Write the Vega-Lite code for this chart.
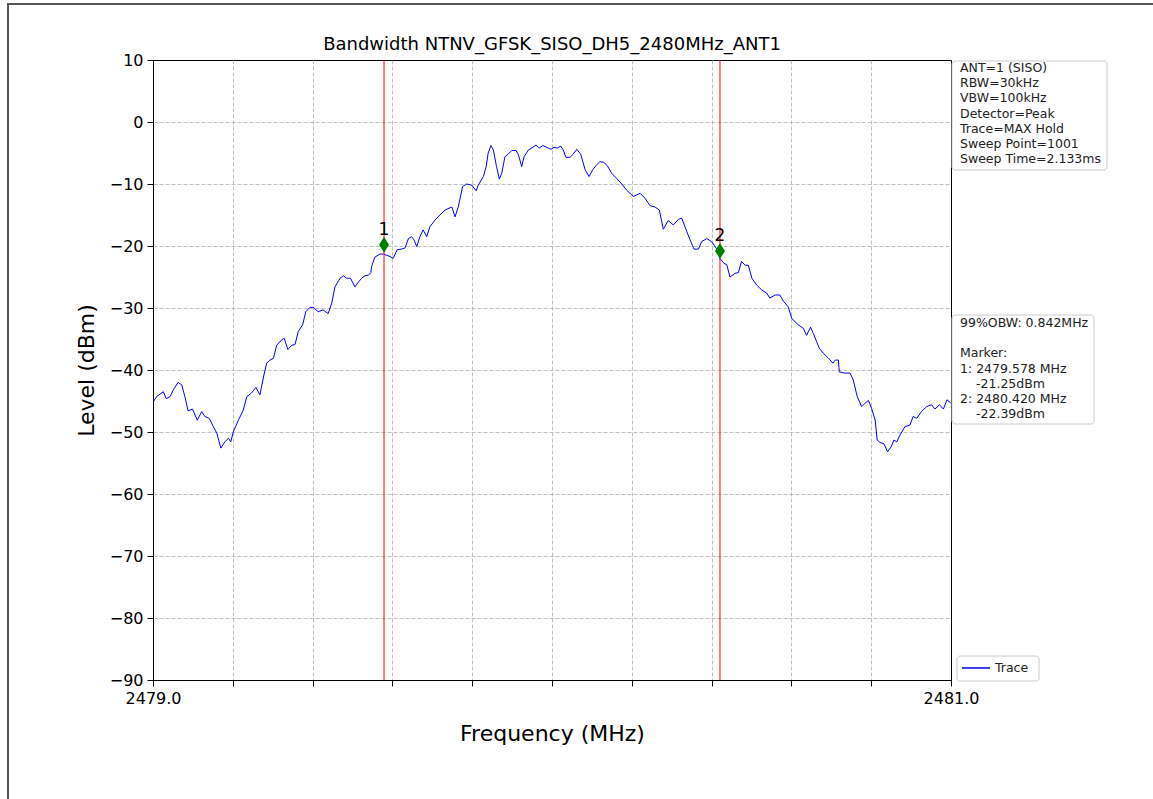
{
  "$schema": "https://vega.github.io/schema/vega-lite/v6.json",
  "width": 798,
  "height": 620,
  "autosize": {"type": "none"},
  "padding": {"left": 153, "top": 60, "right": 202, "bottom": 119},
  "background": "white",
  "config": {
    "view": {"stroke": "black", "strokeWidth": 1}
  },
  "datasets": {
    "trace": [
      {"f":2479.001,"db":-45.1},{"f":2479.009,"db":-44.3},{"f":2479.026,"db":-43.5},{"f":2479.033,"db":-44.6},{"f":2479.043,"db":-44.3},{"f":2479.051,"db":-43.2},{"f":2479.063,"db":-42.0},{"f":2479.072,"db":-42.4},{"f":2479.080,"db":-44.3},{"f":2479.088,"db":-46.6},{"f":2479.099,"db":-46.3},{"f":2479.111,"db":-48.1},{"f":2479.122,"db":-46.7},{"f":2479.130,"db":-47.5},{"f":2479.141,"db":-47.8},{"f":2479.151,"db":-49.1},{"f":2479.160,"db":-50.2},{"f":2479.170,"db":-52.6},{"f":2479.180,"db":-51.6},{"f":2479.189,"db":-51.0},{"f":2479.195,"db":-51.6},{"f":2479.201,"db":-50.0},{"f":2479.214,"db":-48.1},{"f":2479.226,"db":-46.5},{"f":2479.235,"db":-44.3},{"f":2479.247,"db":-43.7},{"f":2479.258,"db":-42.8},{"f":2479.268,"db":-44.0},{"f":2479.278,"db":-40.8},{"f":2479.285,"db":-38.9},{"f":2479.293,"db":-38.4},{"f":2479.302,"db":-38.1},{"f":2479.310,"db":-36.0},{"f":2479.323,"db":-35.1},{"f":2479.329,"db":-34.9},{"f":2479.338,"db":-36.7},{"f":2479.348,"db":-36.0},{"f":2479.356,"db":-35.9},{"f":2479.364,"db":-33.8},{"f":2479.375,"db":-32.7},{"f":2479.383,"db":-30.6},{"f":2479.393,"db":-29.9},{"f":2479.402,"db":-29.9},{"f":2479.414,"db":-30.6},{"f":2479.426,"db":-30.3},{"f":2479.439,"db":-30.9},{"f":2479.448,"db":-29.2},{"f":2479.456,"db":-26.6},{"f":2479.469,"db":-25.2},{"f":2479.477,"db":-24.8},{"f":2479.485,"db":-25.2},{"f":2479.495,"db":-25.2},{"f":2479.506,"db":-26.6},{"f":2479.515,"db":-25.8},{"f":2479.523,"db":-25.2},{"f":2479.531,"db":-24.8},{"f":2479.540,"db":-24.7},{"f":2479.546,"db":-24.3},{"f":2479.548,"db":-23.3},{"f":2479.556,"db":-21.8},{"f":2479.569,"db":-21.3},{"f":2479.577,"db":-21.3},{"f":2479.586,"db":-21.5},{"f":2479.594,"db":-21.7},{"f":2479.602,"db":-22.0},{"f":2479.612,"db":-20.6},{"f":2479.623,"db":-20.5},{"f":2479.632,"db":-20.3},{"f":2479.640,"db":-18.8},{"f":2479.648,"db":-18.5},{"f":2479.654,"db":-19.0},{"f":2479.661,"db":-20.1},{"f":2479.669,"db":-18.5},{"f":2479.677,"db":-17.4},{"f":2479.686,"db":-18.5},{"f":2479.694,"db":-16.9},{"f":2479.707,"db":-15.8},{"f":2479.719,"db":-15.0},{"f":2479.732,"db":-14.2},{"f":2479.749,"db":-13.7},{"f":2479.757,"db":-15.3},{"f":2479.765,"db":-13.7},{"f":2479.776,"db":-10.4},{"f":2479.786,"db":-10.0},{"f":2479.799,"db":-10.2},{"f":2479.810,"db":-11.1},{"f":2479.815,"db":-10.2},{"f":2479.828,"db":-8.8},{"f":2479.835,"db":-7.2},{"f":2479.840,"db":-5.0},{"f":2479.847,"db":-3.8},{"f":2479.853,"db":-4.5},{"f":2479.861,"db":-7.2},{"f":2479.868,"db":-9.2},{"f":2479.874,"db":-8.3},{"f":2479.882,"db":-5.6},{"f":2479.890,"db":-5.2},{"f":2479.899,"db":-4.6},{"f":2479.910,"db":-4.6},{"f":2479.916,"db":-5.3},{"f":2479.924,"db":-7.2},{"f":2479.930,"db":-5.6},{"f":2479.941,"db":-4.5},{"f":2479.952,"db":-4.1},{"f":2479.960,"db":-3.7},{"f":2479.968,"db":-4.2},{"f":2479.977,"db":-3.8},{"f":2479.987,"db":-4.1},{"f":2479.997,"db":-4.4},{"f":2480.005,"db":-4.1},{"f":2480.013,"db":-4.2},{"f":2480.022,"db":-3.9},{"f":2480.028,"db":-4.5},{"f":2480.035,"db":-5.7},{"f":2480.045,"db":-5.7},{"f":2480.053,"db":-5.2},{"f":2480.062,"db":-4.4},{"f":2480.072,"db":-5.2},{"f":2480.083,"db":-7.7},{"f":2480.093,"db":-8.8},{"f":2480.102,"db":-7.7},{"f":2480.112,"db":-6.9},{"f":2480.120,"db":-6.4},{"f":2480.130,"db":-6.5},{"f":2480.139,"db":-7.1},{"f":2480.150,"db":-8.3},{"f":2480.162,"db":-9.1},{"f":2480.175,"db":-10.0},{"f":2480.187,"db":-11.0},{"f":2480.204,"db":-12.0},{"f":2480.221,"db":-11.5},{"f":2480.233,"db":-12.3},{"f":2480.246,"db":-13.5},{"f":2480.258,"db":-13.7},{"f":2480.269,"db":-14.2},{"f":2480.279,"db":-17.3},{"f":2480.291,"db":-15.9},{"f":2480.304,"db":-16.6},{"f":2480.317,"db":-15.7},{"f":2480.325,"db":-15.5},{"f":2480.338,"db":-17.7},{"f":2480.346,"db":-19.0},{"f":2480.356,"db":-20.5},{"f":2480.367,"db":-20.5},{"f":2480.375,"db":-19.3},{"f":2480.388,"db":-18.8},{"f":2480.400,"db":-19.3},{"f":2480.413,"db":-20.5},{"f":2480.421,"db":-22.0},{"f":2480.431,"db":-22.8},{"f":2480.438,"db":-23.0},{"f":2480.446,"db":-25.0},{"f":2480.459,"db":-24.4},{"f":2480.467,"db":-24.3},{"f":2480.475,"db":-22.5},{"f":2480.484,"db":-23.1},{"f":2480.492,"db":-23.1},{"f":2480.501,"db":-25.2},{"f":2480.513,"db":-26.3},{"f":2480.526,"db":-27.1},{"f":2480.538,"db":-27.6},{"f":2480.546,"db":-28.4},{"f":2480.559,"db":-27.9},{"f":2480.571,"db":-27.9},{"f":2480.580,"db":-28.9},{"f":2480.592,"db":-29.8},{"f":2480.601,"db":-31.7},{"f":2480.609,"db":-32.2},{"f":2480.617,"db":-32.7},{"f":2480.630,"db":-33.3},{"f":2480.638,"db":-34.4},{"f":2480.648,"db":-33.1},{"f":2480.655,"db":-34.1},{"f":2480.663,"db":-35.4},{"f":2480.670,"db":-36.5},{"f":2480.680,"db":-37.3},{"f":2480.693,"db":-38.1},{"f":2480.704,"db":-38.9},{"f":2480.710,"db":-38.4},{"f":2480.718,"db":-38.4},{"f":2480.720,"db":-40.3},{"f":2480.734,"db":-40.5},{"f":2480.747,"db":-40.5},{"f":2480.755,"db":-41.6},{"f":2480.765,"db":-44.3},{"f":2480.776,"db":-45.9},{"f":2480.784,"db":-45.4},{"f":2480.793,"db":-44.9},{"f":2480.801,"db":-46.2},{"f":2480.810,"db":-48.1},{"f":2480.815,"db":-51.3},{"f":2480.822,"db":-51.7},{"f":2480.832,"db":-51.9},{"f":2480.841,"db":-53.2},{"f":2480.850,"db":-52.4},{"f":2480.857,"db":-51.3},{"f":2480.864,"db":-51.6},{"f":2480.872,"db":-50.5},{"f":2480.885,"db":-49.1},{"f":2480.897,"db":-48.9},{"f":2480.905,"db":-47.5},{"f":2480.914,"db":-47.8},{"f":2480.926,"db":-46.7},{"f":2480.939,"db":-45.9},{"f":2480.951,"db":-45.6},{"f":2480.960,"db":-46.3},{"f":2480.971,"db":-45.6},{"f":2480.981,"db":-46.3},{"f":2480.990,"db":-44.8},{"f":2480.999,"db":-45.3}
    ],
    "markers": [
      {"marker": "1", "f": 2479.579, "db": -19.8},
      {"marker": "2", "f": 2480.421, "db": -20.8}
    ],
    "one": [{"k": 1}]
  },
  "layer": [
    {
      "data": {"name": "trace"},
      "mark": {"type": "line", "strokeWidth": 1, "interpolate": "linear", "clip": true, "color": "#0000ff"},
      "encoding": {
        "x": {"field": "f", "type": "quantitative", "scale": {"domain": [2479, 2481], "nice": false, "zero": false},
          "axis": {"values": [2479, 2479.2, 2479.4, 2479.6, 2479.8, 2480, 2480.2, 2480.4, 2480.6, 2480.8, 2481],
            "labelExpr": "datum.value == 2479 ? '2479.0' : (datum.value == 2481 ? '2481.0' : '')",
            "grid": true, "gridDash": [4, 2], "gridColor": "#b0b0b0", "gridWidth": 0.8,
            "gridOpacity": {"condition": {"test": "datum.value <= 2479.001 || datum.value >= 2480.999", "value": 0}, "value": 1},
            "tickSize": 6, "tickColor": "black", "domainColor": "black",
            "labelFont": "DejaVu Sans", "labelFontSize": 16, "labelColor": "black", "labelPadding": 4,
            "labelFlush": false, "labelOverlap": false,
            "title": "Frequency (MHz)", "titleFont": "DejaVu Sans", "titleFontSize": 22, "titleFontWeight": "normal", "titleColor": "black", "titlePadding": 17}},
        "y": {"field": "db", "type": "quantitative", "scale": {"domain": [-90, 10], "nice": false, "zero": false},
          "axis": {"values": [-90, -80, -70, -60, -50, -40, -30, -20, -10, 0, 10],
            "labelExpr": "replace(format(datum.value, 'd'), '-', '\u2212')",
            "grid": true, "gridDash": [4, 2], "gridColor": "#b0b0b0", "gridWidth": 0.8,
            "gridOpacity": {"condition": {"test": "datum.value <= -90 || datum.value >= 10", "value": 0}, "value": 1},
            "tickSize": 6, "tickColor": "black", "domainColor": "black",
            "labelFont": "DejaVu Sans", "labelFontSize": 16, "labelColor": "black", "labelPadding": 4,
            "labelOverlap": false,
            "title": "Level (dBm)", "titleFont": "DejaVu Sans", "titleFontSize": 22, "titleFontWeight": "normal", "titleColor": "black", "titlePadding": 11}}
      }
    },
    {
      "data": {"name": "markers"},
      "mark": {"type": "rule", "color": "#ff0000", "strokeWidth": 1},
      "encoding": {"x": {"field": "f", "type": "quantitative"}}
    },
    {
      "data": {"name": "markers"},
      "mark": {"type": "point", "shape": "M0,-1L0.62,0L0,1L-0.62,0Z", "size": 256, "filled": true, "color": "#008000", "opacity": 1},
      "encoding": {"x": {"field": "f", "type": "quantitative"}, "y": {"field": "db", "type": "quantitative"}}
    },
    {
      "data": {"name": "markers"},
      "mark": {"type": "text", "font": "DejaVu Sans", "fontSize": 17, "color": "black", "baseline": "alphabetic", "dy": -10},
      "encoding": {"x": {"field": "f", "type": "quantitative"}, "y": {"field": "db", "type": "quantitative"}, "text": {"field": "marker"}}
    },
    {
      "data": {"name": "one"},
      "mark": {"type": "text", "font": "DejaVu Sans", "fontSize": 18, "color": "black", "align": "center", "baseline": "alphabetic"},
      "encoding": {"x": {"datum": 2480.0, "type": "quantitative"}, "y": {"datum": 11.6, "type": "quantitative"}, "text": {"value": "Bandwidth NTNV_GFSK_SISO_DH5_2480MHz_ANT1"}}
    },
    {
      "data": {"name": "one"},
      "mark": {"type": "rect", "fill": "white", "stroke": "#cccccc", "strokeWidth": 1, "cornerRadius": 3},
      "encoding": {"x": {"datum": 2481.0025, "type": "quantitative"}, "x2": {"datum": 2481.391}, "y": {"datum": 9.84, "type": "quantitative"}, "y2": {"datum": -7.74}}
    },
    {
      "data": {"name": "one"},
      "mark": {"type": "text", "font": "DejaVu Sans", "fontSize": 12.5, "color": "#222222", "align": "left", "baseline": "top", "lineBreak": "\n", "lineHeight": 15.2},
      "encoding": {"x": {"datum": 2481.0226, "type": "quantitative"}, "y": {"datum": 9.68, "type": "quantitative"},
        "text": {"value": "ANT=1 (SISO)\nRBW=30kHz\nVBW=100kHz\nDetector=Peak\nTrace=MAX Hold\nSweep Point=1001\nSweep Time=2.133ms"}}
    },
    {
      "data": {"name": "one"},
      "mark": {"type": "rect", "fill": "white", "stroke": "#cccccc", "strokeWidth": 1, "cornerRadius": 3},
      "encoding": {"x": {"datum": 2481.0025, "type": "quantitative"}, "x2": {"datum": 2481.3584}, "y": {"datum": -31.13, "type": "quantitative"}, "y2": {"datum": -48.71}}
    },
    {
      "data": {"name": "one"},
      "mark": {"type": "text", "font": "DejaVu Sans", "fontSize": 12.5, "color": "#222222", "align": "left", "baseline": "top"},
      "encoding": {"x": {"datum": 2481.0226, "type": "quantitative"}, "y": {"datum": -31.45, "type": "quantitative"}, "text": {"value": "99%OBW: 0.842MHz"}}
    },
    {
      "data": {"name": "one"},
      "mark": {"type": "text", "font": "DejaVu Sans", "fontSize": 12.5, "color": "#222222", "align": "left", "baseline": "top", "lineBreak": "\n", "lineHeight": 15.2},
      "encoding": {"x": {"datum": 2481.0226, "type": "quantitative"}, "y": {"datum": -36.35, "type": "quantitative"}, "text": {"value": "Marker:\n1: 2479.578 MHz"}}
    },
    {
      "data": {"name": "one"},
      "mark": {"type": "text", "font": "DejaVu Sans", "fontSize": 12.5, "color": "#222222", "align": "left", "baseline": "top"},
      "encoding": {"x": {"datum": 2481.0627, "type": "quantitative"}, "y": {"datum": -41.26, "type": "quantitative"}, "text": {"value": "-21.25dBm"}}
    },
    {
      "data": {"name": "one"},
      "mark": {"type": "text", "font": "DejaVu Sans", "fontSize": 12.5, "color": "#222222", "align": "left", "baseline": "top"},
      "encoding": {"x": {"datum": 2481.0226, "type": "quantitative"}, "y": {"datum": -43.71, "type": "quantitative"}, "text": {"value": "2: 2480.420 MHz"}}
    },
    {
      "data": {"name": "one"},
      "mark": {"type": "text", "font": "DejaVu Sans", "fontSize": 12.5, "color": "#222222", "align": "left", "baseline": "top"},
      "encoding": {"x": {"datum": 2481.0627, "type": "quantitative"}, "y": {"datum": -46.16, "type": "quantitative"}, "text": {"value": "-22.39dBm"}}
    },
    {
      "data": {"name": "one"},
      "mark": {"type": "rect", "fill": "white", "stroke": "#cccccc", "strokeWidth": 1, "cornerRadius": 3},
      "encoding": {"x": {"datum": 2481.015, "type": "quantitative"}, "x2": {"datum": 2481.2206}, "y": {"datum": -86.13, "type": "quantitative"}, "y2": {"datum": -90.16}}
    },
    {
      "data": {"name": "one"},
      "mark": {"type": "rule", "color": "#0000ff", "strokeWidth": 1.5},
      "encoding": {"x": {"datum": 2481.0276, "type": "quantitative"}, "x2": {"datum": 2481.0977}, "y": {"datum": -88.06, "type": "quantitative"}}
    },
    {
      "data": {"name": "one"},
      "mark": {"type": "text", "font": "DejaVu Sans", "fontSize": 12.5, "color": "#222222", "align": "left", "baseline": "middle"},
      "encoding": {"x": {"datum": 2481.1103, "type": "quantitative"}, "y": {"datum": -88.06, "type": "quantitative"}, "text": {"value": "Trace"}}
    },
    {
      "data": {"name": "one"},
      "mark": {"type": "rect", "fill": null, "stroke": "#555555", "strokeWidth": 2},
      "encoding": {"x": {"datum": 2478.6366, "type": "quantitative"}, "x2": {"datum": 2481.7}, "y": {"datum": 19.03, "type": "quantitative"}, "y2": {"datum": -118}}
    }
  ]
}
